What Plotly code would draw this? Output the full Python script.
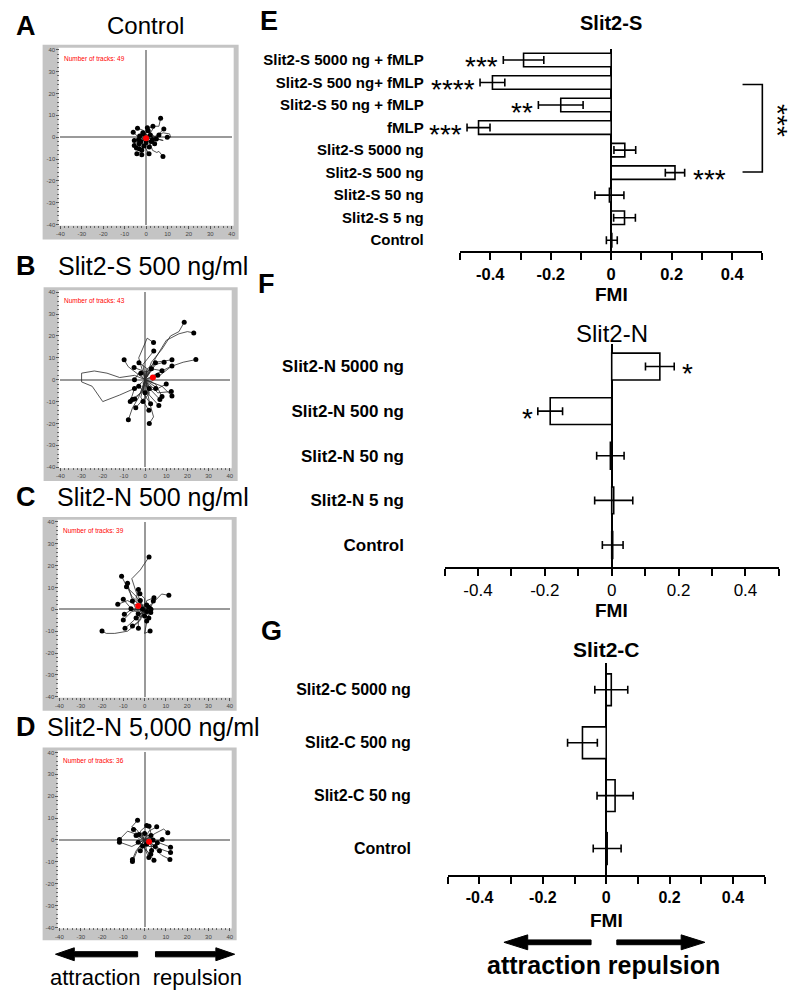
import plotly.graph_objects as go

W, H = 800, 998
FONT = "Arial, Liberation Sans, sans-serif"

# ---------------- Panel E : Slit2-S ----------------
E_labels = ["Slit2-S 5000 ng + fMLP", "Slit2-S 500 ng+ fMLP", "Slit2-S 50 ng + fMLP", "fMLP",
            "Slit2-S 5000 ng", "Slit2-S 500 ng", "Slit2-S 50 ng", "Slit2-S 5 ng", "Control"]
E_fmi = [-0.290, -0.393, -0.167, -0.439, 0.045, 0.211, -0.006, 0.044, 0.002]
E_err = [0.067, 0.041, 0.074, 0.038, 0.036, 0.032, 0.048, 0.036, 0.018]
E_sig = ["***", "****", "**", "***", "", "***", "", "", ""]

# ---------------- Panel F : Slit2-N ----------------
F_labels = ["Slit2-N 5000 ng", "Slit2-N 500 ng", "Slit2-N 50 ng", "Slit2-N 5 ng", "Control"]
F_fmi = [0.144, -0.184, -0.004, 0.006, 0.003]
F_err = [0.043, 0.037, 0.041, 0.057, 0.031]
F_sig = ["*", "*", "", "", ""]

# ---------------- Panel G : Slit2-C ----------------
G_labels = ["Slit2-C 5000 ng", "Slit2-C 500 ng", "Slit2-C 50 ng", "Control"]
G_fmi = [0.016, -0.075, 0.028, 0.003]
G_err = [0.052, 0.047, 0.057, 0.044]
G_sig = ["", "", "", ""]

FMI_ticks = [-0.5, -0.4, -0.3, -0.2, -0.1, 0.0, 0.1, 0.2, 0.3, 0.4, 0.5]
FMI_ticktext = ["", "-0.4", "", "-0.2", "", "0", "", "0.2", "", "0.4", ""]

# ---------------- Track plots A-D (µm) ----------------
A_end_x = [8.3, 3.2, 0.6, -4, -6, -5.5, -3.2, -2, 1.4, 6, -1.4, -3.2, -5.5, -2.5, 2.5, -1, 1, -3, 3, 0,
           -4.5, 2, -2, 4, -1.5, 1.5, -3.5]
A_end_y = [3.8, 5, 4.3, 4.1, 2.3, -1.5, -5.3, -8, -7.6, 1, 1.5, -3, -3.8, -2, -2, -4, 3, 0.5, -1, -2.5,
           -5, 1, -6, -3, 2, -4.5, -1]
A_bend_x = [5, -0.5, 2, -1, -3, -2, -0.5, -3, -1, 3, 1, -1, -3, 0, 1, -2, -1, -1, 1, 1, -3, 1, 0, 1, 0.5, 2, -1.5]
A_bend_y = [0.5, 3, 2, 3, -0.5, -2.5, -3, -4, -4, -1, 1, -1, -1, -1, 0.5, -2, 1, -1, -2, -1, -2, -0.5, -3, -2,
            1, -2, 0.5]
A_paths = [
    [(0, 0), (2, -3), (3, -6), (5, -7), (6, -6.5), (7.9, -8.8)],
    [(0, 0), (3, -1), (5, 1), (8, 2), (11, 1.5), (11.5, 0), (9.9, 0)],
    [(0, 0), (2, 2), (4, 5), (6, 5), (6.8, 8.7)],
    [(0, 0), (3, 1), (6, -1), (8, -1.5), (4.8, -0.8)],
    [(0, 0), (-2, -2), (-1, -5), (-3, -7), (-4.3, -7.6)],
]
A_centroid = [(0.0, -0.5)]

B_end_x = [4.1, 12.7, 12.7, -4.4, 1.8, -4.9, 8, 12.4, 12.7, 2.6, 6.5, -2.9, -5.2, 4.9, 8, -6, -7, 10, 6,
           -3, 2, -2, 3, 5, -5, 0, 9, -1, 7]
B_end_y = [13.1, 9.1, 6.3, -12.8, -14, -8.8, -7.7, -5.4, -7.5, -11, -11.8, 7.8, 5.6, 7.8, 4.1, -9, -10,
           -2, 2, -3, -4, 3, 5, -4, 0, -6, 8, -10, -9]
B_bend_x = [-1, 5, 7, 0, -2, -1, 5, 6, 8, -1, 2, 1, -1, 1, 3, -2, -5, 6, 3, -1, -1, 1, 0, 2, -3, 2, 5, 2, 3]
B_bend_y = [7, 8, 2, -8, -8, -5, -2, -6, -3, -6, -7, 5, 4, 5, 5, -6, -4, -4, -1, -5, -2, 4, 3, -5, 3, -3, 7,
            -6, -5]
B_paths = [
    [(0, 0), (3, 8), (8, 14), (12, 20), (16, 22), (18.5, 26.3)],
    [(0, 0), (5, 10), (10, 18), (16, 21), (20, 22), (23, 21.4)],
    [(0, 0), (6, 3), (12, 6), (18, 8), (24, 9.2)],
    [(0, 0), (-5, 2), (-12, 1), (-18, 3), (-24, 4), (-30, 3), (-30, -1), (-25, -3), (-20, -10),
     (-12, -7), (-5, -4)],
    [(0, 0), (-3, 10), (1, 19), (4, 17)],
    [(0, 0), (-3, -8), (-6, -13), (-7.9, -18.3)],
    [(0, 0), (2, -10), (4, -17), (2, -20)],
    [(0, 0), (-8, 6), (-9.9, 9.1)],
]
B_centroid = [(3.7, 1.0)]

C_end_x = [-8, -8.5, -12.6, -10, -6.4, -5.7, -2.9, -2.2, 4.4, 4.1, -9.5, -10, -9.2, -5.7, -2.9, 1, 2.9,
           1, -1, 2, -3, 0, 3, -2, 1, -4, 2]
C_end_y = [11.9, 10.3, 2.3, 4.6, 0.3, 3.8, 9.1, 7.1, 5.3, 3.8, -2.3, -4.9, -8.7, -7.6, -8.7, -5.3, -1.5,
           2, 0, 1, -2, -3, 0, 4, -1, -4, -4]
C_bend_x = [-6, -4, -8, -6, -3, -4, -4, 0, 1, 3, -6, -6, -5, -2, -3, 2, 1, -1, -0.5, 1, -1, 1, 1.5, -2, 0,
            -1, 0]
C_bend_y = [5, 6, 4, 0, -1.5, 0, 5, 5, 4, 1, 0, -1, -5, -5, -4, -3, -2, 2, 1, -1, -2, -2, 1, 1.5, -1.5,
            -3, -2]
C_paths = [
    [(0, 0), (-3, -6), (-8, -10), (-14, -11), (-18, -11), (-20, -9.9)],
    [(0, 0), (-4, 8), (-6, 14), (-2, 18), (0, 21), (2.1, 23.9)],
    [(0, 0), (4, 3), (8, 7), (11.4, 6.4)],
    [(0, 0), (1, -6), (0, -11), (2.6, -9.9)],
    [(0, 0), (-6, 6), (-10.8, 15.1)],
]
C_centroid = [(-3.0, 1.5)]

D_end_x = [1, 2.1, 5.7, -5.2, -11.8, -2.6, 12.2, 12.2, 4.4, -5.7, -5.7, 2.9, 3.3, -1, 6, 8.3, 0, 3, -3,
           5, 7, -2, 1, 4, -4, 2]
D_end_y = [6.6, 6.3, 6, 4.8, -1, 2.5, -3.3, -5.8, -9.3, -9.9, -8.9, -6.6, -4.8, -2.8, -1.3, 0.2, 3, 2,
           -1, -3, -5, -5, -2, 0, 2, -8]
D_bend_x = [-2, 3, 2, -2, -6, -1, 6, 7, 1, -3, -4, 0, 3, -2, 3, 4, -1, 1, -1, 2, 4, 0, 1, 2, -2, 0]
D_bend_y = [4, 3, 4, 1, -3, 1, -1, -4, -5, -4, -5, -4, -2, -1, 1, -1, 2, 2, -2, -3, -2, -3, -1, 1, 0, -4]
D_paths = [
    [(0, 0), (4, -3), (8, -7), (11.9, -8.9)],
    [(0, 0), (-5, 3), (-8, 4), (-11.8, 0.2)],
    [(0, 0), (-4, 5), (-6, 6), (-3.3, 9)],
    [(0, 0), (5, 3), (9, 5), (10.9, 3.3)],
]
D_centroid = [(2.1, -0.8)]

AXTICKS = [-40, -30, -20, -10, 0, 10, 20, 30, 40]


def fx(p):
    return p / W


def fy(p):
    return 1 - p / H


fig = go.Figure()
layout = dict(width=W, height=H, margin=dict(l=0, r=0, t=0, b=0), showlegend=False,
              paper_bgcolor="white", plot_bgcolor="rgba(0,0,0,0)",
              font=dict(family=FONT, color="black"))
shapes, annotations = [], []

track_panels = [
    ("A", "Control", 49, A_end_x, A_end_y, A_bend_x, A_bend_y, A_paths, A_centroid,
     (39, 42, 237, 238), (57, 47, 230, 223), 23, 143, 24),
    ("B", "Slit2-S 500 ng/ml", 43, B_end_x, B_end_y, B_bend_x, B_bend_y, B_paths, B_centroid,
     (40, 286, 236, 481), (57, 291, 228, 467), 265, 150, 25),
    ("C", "Slit2-N 500 ng/ml", 39, C_end_x, C_end_y, C_bend_x, C_bend_y, C_paths, C_centroid,
     (39, 517, 235, 712), (56, 522, 228, 698), 497, 150, 25),
    ("D", "Slit2-N 5,000 ng/ml", 36, D_end_x, D_end_y, D_bend_x, D_bend_y, D_paths, D_centroid,
     (39, 749, 235, 943), (56, 754, 228, 930), 728, 151, 25),
]

for i, (letter, title, n, ex, ey, bx, by, paths, cen, fr, dom, ty, tx, ts) in enumerate(track_panels, start=1):
    xa, ya = f"x{i}", f"y{i}"
    shapes.append(dict(type="rect", xref="paper", yref="paper", layer="below",
                       x0=fx(fr[0]), x1=fx(fr[2]), y0=fy(fr[3]), y1=fy(fr[1]),
                       fillcolor="#c4c4c4", line=dict(width=0)))
    shapes.append(dict(type="rect", xref="paper", yref="paper", layer="below",
                       x0=fx(dom[0] - 2), x1=fx(dom[2] + 2), y0=fy(dom[3] + 1), y1=fy(dom[1] - 2),
                       fillcolor="white", line=dict(width=0)))
    lx, ly = [], []
    for x, y, x1, y1 in zip(ex, ey, bx, by):
        lx += [0, x1, x, None]
        ly += [0, y1, y, None]
    for p in paths:
        lx += [q[0] for q in p] + [None]
        ly += [q[1] for q in p] + [None]
    fig.add_trace(go.Scatter(x=lx, y=ly, mode="lines", line=dict(color="#2a2a2a", width=0.8),
                             xaxis=xa, yaxis=ya, hoverinfo="skip"))
    px_ = list(ex) + [p[-1][0] for p in paths]
    py_ = list(ey) + [p[-1][1] for p in paths]
    fig.add_trace(go.Scatter(x=px_, y=py_, mode="markers", marker=dict(color="black", size=5),
                             xaxis=xa, yaxis=ya, hoverinfo="skip"))
    fig.add_trace(go.Scatter(x=[c[0] for c in cen], y=[c[1] for c in cen], mode="markers",
                             marker=dict(color="red", size=6), xaxis=xa, yaxis=ya, hoverinfo="skip"))
    common = dict(range=[-40, 40], showgrid=False, zeroline=True, zerolinecolor="#9a9a9a",
                  zerolinewidth=1.5, showline=False, tickmode="array", tickvals=AXTICKS,
                  ticktext=[str(v) for v in AXTICKS], ticks="outside", ticklen=3, tickwidth=0.8,
                  tickcolor="#555", tickfont=dict(size=6, color="#444", family=FONT),
                  minor=dict(ticks="outside", dtick=2, ticklen=2, tickcolor="#666", tickwidth=0.6),
                  fixedrange=True)
    layout[f"xaxis{i}"] = dict(domain=[fx(dom[0]), fx(dom[2])], anchor=ya, **common)
    layout[f"yaxis{i}"] = dict(domain=[fy(dom[3]), fy(dom[1])], anchor=xa, **common)
    annotations.append(dict(xref="paper", yref="paper", x=fx(dom[0] + 2), y=fy(dom[1] + 3),
                            xanchor="left", yanchor="top", showarrow=False,
                            text=f"Number of tracks: {n}", font=dict(size=6.5, color="red", family=FONT)))
    annotations.append(dict(xref="paper", yref="paper", x=fx(22), y=fy(ty), xanchor="center",
                            yanchor="middle", showarrow=False, text=f"<b>{letter}</b>",
                            font=dict(size=27, family=FONT)))
    annotations.append(dict(xref="paper", yref="paper", x=fx(tx), y=fy(ty),
                            xanchor="center", yanchor="middle", showarrow=False, text=title,
                            font=dict(size=ts, family=FONT)))

bar_panels = [
    dict(letter="E", title="Slit2-S", labels=E_labels, vals=E_fmi, errs=E_err, sig=E_sig,
         xd=(460.7, 766), yd=(46, 250), lab_end=421, lab_size=15, tick_size=16.5, tick_bold=True,
         title_y=20, title_size=20, title_bold=True, fmi_y=293, letter_xy=(268, 18)),
    dict(letter="F", title="Slit2-N", labels=F_labels, vals=F_fmi, errs=F_err, sig=F_sig,
         xd=(445, 782.7), yd=(343.3, 567.7), lab_end=401, lab_size=17, tick_size=17, tick_bold=False,
         title_y=332, title_size=24, title_bold=False, fmi_y=611, letter_xy=(265, 283)),
    dict(letter="G", title="Slit2-C", labels=G_labels, vals=G_fmi, errs=G_err, sig=G_sig,
         xd=(448.3, 768.3), yd=(664.3, 877.3), lab_end=408, lab_size=16, tick_size=16, tick_bold=True,
         title_y=650, title_size=21, title_bold=True, fmi_y=923, letter_xy=(270, 632)),
]

for j, bp in enumerate(bar_panels, start=5):
    xa, ya = f"x{j}", f"y{j}"
    fig.add_trace(go.Bar(orientation="h", x=bp["vals"], y=bp["labels"], width=0.6,
                         marker=dict(color="white", line=dict(color="black", width=1.6)),
                         error_x=dict(type="data", array=bp["errs"], visible=True, color="black",
                                      thickness=1.6, width=4),
                         xaxis=xa, yaxis=ya, hoverinfo="skip"))
    layout[f"xaxis{j}"] = dict(domain=[fx(bp["xd"][0]), fx(bp["xd"][1])], anchor=ya, range=[-0.5, 0.5],
                               showgrid=False, zeroline=True, zerolinecolor="black", zerolinewidth=1.6,
                               showline=True, linecolor="black", linewidth=1.6, ticks="outside",
                               ticklen=7, tickwidth=1.6, tickcolor="black", tickmode="array",
                               tickvals=FMI_ticks, ticktext=FMI_ticktext,
                               tickfont=dict(size=bp["tick_size"], family=FONT,
                                             weight="bold" if bp["tick_bold"] else "normal"),
                               fixedrange=True)
    layout[f"yaxis{j}"] = dict(domain=[fy(bp["yd"][1]), fy(bp["yd"][0])], anchor="free",
                               position=fx(bp["lab_end"] + 3), type="category",
                               categoryorder="array", categoryarray=bp["labels"][::-1],
                               showgrid=False, zeroline=False, showline=False, ticks="",
                               tickfont=dict(size=bp["lab_size"], family=FONT, weight="bold"),
                               fixedrange=True)
    x0z = bp["xd"][0] + (bp["xd"][1] - bp["xd"][0]) / 2
    t = f"<b>{bp['title']}</b>" if bp["title_bold"] else bp["title"]
    annotations.append(dict(xref="paper", yref="paper", x=fx(x0z), y=fy(bp["title_y"]),
                            xanchor="center", yanchor="middle", showarrow=False, text=t,
                            font=dict(size=bp["title_size"], family=FONT)))
    annotations.append(dict(xref="paper", yref="paper", x=fx(x0z), y=fy(bp["fmi_y"]),
                            xanchor="center", yanchor="middle", showarrow=False, text="<b>FMI</b>",
                            font=dict(size=19, family=FONT)))
    annotations.append(dict(xref="paper", yref="paper", x=fx(bp["letter_xy"][0]),
                            y=fy(bp["letter_xy"][1]), xanchor="center", yanchor="middle",
                            showarrow=False, text=f"<b>{bp['letter']}</b>", font=dict(size=27, family=FONT)))
    for lab, v, e, s in zip(bp["labels"], bp["vals"], bp["errs"], bp["sig"]):
        if not s:
            continue
        if v < 0:
            annotations.append(dict(xref=xa, yref=ya, x=v - e, y=lab, xanchor="right", yanchor="middle",
                                    xshift=-3, yshift=-7, showarrow=False, text=s,
                                    font=dict(size=28, family=FONT)))
        else:
            annotations.append(dict(xref=xa, yref=ya, x=v + e, y=lab, xanchor="left", yanchor="middle",
                                    xshift=6, yshift=-7, showarrow=False, text=s,
                                    font=dict(size=28, family=FONT)))

shapes.append(dict(type="path", xref="paper", yref="paper",
                   path=f"M {fx(746)} {fy(82)} L {fx(766)} {fy(82)} L {fx(766)} {fy(170)} L {fx(746)} {fy(170)}",
                   line=dict(color="black", width=1.6)))
annotations.append(dict(xref="paper", yref="paper", x=fx(782), y=fy(118), textangle=90,
                        xanchor="center", yanchor="middle", showarrow=False, text="***",
                        font=dict(size=28, family=FONT)))


def arrow(tip, tail, y, head_len, half_h, half_w):
    d = 1 if tail > tip else -1
    hb = tip + d * head_len
    return (f"M {fx(tip)} {fy(y)} L {fx(hb)} {fy(y - half_h)} L {fx(hb)} {fy(y - half_w)} "
            f"L {fx(tail)} {fy(y - half_w)} L {fx(tail)} {fy(y + half_w)} L {fx(hb)} {fy(y + half_w)} "
            f"L {fx(hb)} {fy(y + half_h)} Z")


for tip, tail, y, hl, hh, hw in [(52, 135, 957, 19, 6.5, 2.6), (233, 153, 957, 19, 6.5, 2.6),
                                 (505, 593, 945, 24, 7.5, 2.4), (708, 619, 945, 24, 7.5, 2.4)]:
    shapes.append(dict(type="path", xref="paper", yref="paper", path=arrow(tip, tail, y, hl, hh, hw),
                       fillcolor="black", line=dict(color="black", width=1)))

annotations.append(dict(xref="paper", yref="paper", x=fx(143), y=fy(980), xanchor="center",
                        yanchor="middle", showarrow=False, text="attraction  repulsion",
                        font=dict(size=22, family=FONT)))
annotations.append(dict(xref="paper", yref="paper", x=fx(606), y=fy(968), xanchor="center",
                        yanchor="middle", showarrow=False, text="<b>attraction repulsion</b>",
                        font=dict(size=25, family=FONT)))

layout["shapes"] = shapes
layout["annotations"] = annotations
fig.update_layout(**layout)
fig.write_html("out.html", config={"displayModeBar": False},
               post_script="document.body.style.margin='0';document.body.style.overflow='hidden';")
